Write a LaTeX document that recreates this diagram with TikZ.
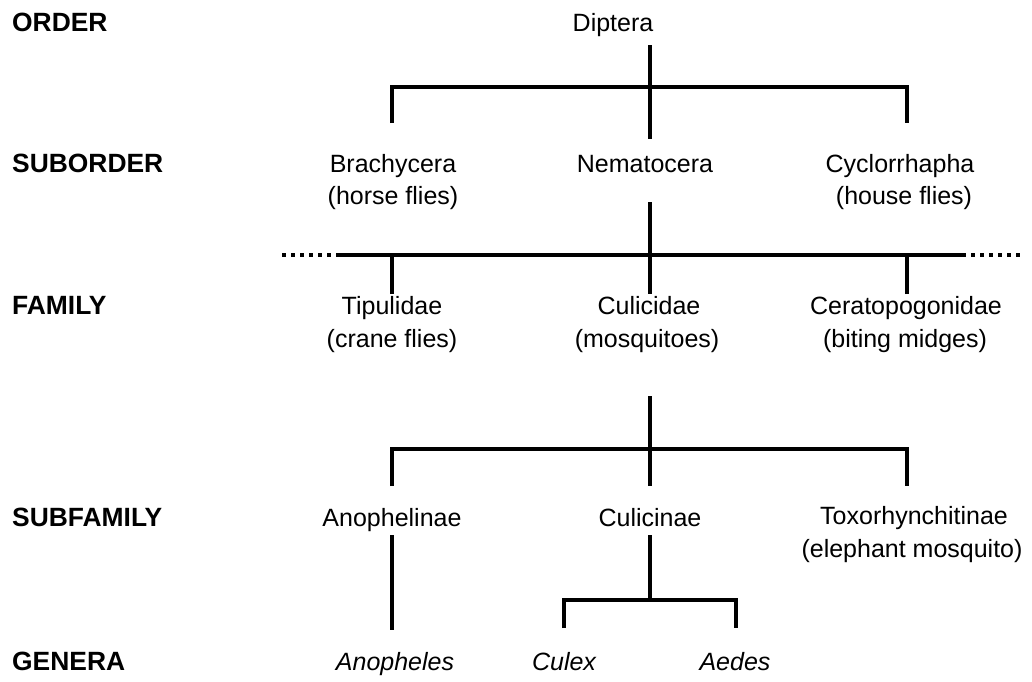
\documentclass[tikz,border=0pt]{standalone}
\usepackage{fontspec}
\setmainfont{Liberation Sans}
\begin{document}
\begin{tikzpicture}[x=1pt,y=-1pt,
  txt/.style={inner sep=0pt,anchor=base,font=\fontsize{25}{30}\selectfont},
  rank/.style={inner sep=0pt,anchor=base west,font=\fontsize{26.4}{30}\selectfont\bfseries},
  gen/.style={txt,font=\fontsize{25}{30}\selectfont\itshape},
  tree/.style={line width=4pt,miter limit=4,line join=miter},
  dots/.style={line width=4pt,dash pattern=on 4pt off 5pt}]
\useasboundingbox (0,0) rectangle (1032,681);
% rank labels
\node[rank] (rOrder) at (12,31.5) {ORDER};
\node[rank] (rSub) at (12,172) {SUBORDER};
\node[rank] (rFam) at (12,314) {FAMILY};
\node[rank] (rSubf) at (12,526) {SUBFAMILY};
\node[rank] (rGen) at (12,670) {GENERA};
% taxa
\node[txt] (dip) at (613,31) {Diptera};
\node[txt] (bra) at (393,172) {Brachycera};
\node[txt] (braC) at (393,204) {(horse flies)};
\node[txt] (nem) at (645,172) {Nematocera};
\node[txt] (cyc) at (900,172) {Cyclorrhapha};
\node[txt] (cycC) at (904,204) {(house flies)};
\node[txt] (tip) at (392,314) {Tipulidae};
\node[txt] (tipC) at (392,347) {(crane flies)};
\node[txt] (cul) at (649,314) {Culicidae};
\node[txt] (culC) at (647,347) {(mosquitoes)};
\node[txt] (cer) at (906,314) {Ceratopogonidae};
\node[txt] (cerC) at (905,347) {(biting midges)};
\node[txt] (ano) at (392,526) {Anophelinae};
\node[txt] (culn) at (650,526) {Culicinae};
\node[txt] (tox) at (914,524) {Toxorhynchitinae};
\node[txt] (toxC) at (912,557) {(elephant mosquito)};
\node[gen] (anog) at (395,670) {Anopheles};
\node[gen] (culx) at (564,670) {Culex};
\node[gen] (aed) at (735,670) {Aedes};
% junction coordinates
\coordinate (a0) at (650,45);
\coordinate (a1) at (650,139);
\coordinate (aL) at (392,123);
\coordinate (aR) at (907,123);
\coordinate (b0) at (650,202);
\coordinate (b1) at (650,294);
\coordinate (bL) at (392,294);
\coordinate (bR) at (907,294);
\coordinate (bdl) at (282,255);
\coordinate (bsl) at (337,255);
\coordinate (bsr) at (962,255);
\coordinate (bdr) at (1022,255);
\coordinate (c0) at (650,396);
\coordinate (c1) at (650,486);
\coordinate (cL) at (392,486);
\coordinate (cR) at (907,486);
\coordinate (d0) at (392,535);
\coordinate (d1) at (392,630);
\coordinate (e0) at (650,535);
\coordinate (e1) at (650,600);
\coordinate (eL) at (564,628);
\coordinate (eR) at (736,628);
% level 1
\draw[tree] (a0) -- (a1);
\draw[tree] (aL) |- (650,87) -| (aR);
% level 2
\draw[tree] (b0) -- (b1);
\draw[tree] (bsl) -- (bsr);
\draw[tree] (bL) -- (bL |- bsl);
\draw[tree] (bR) -- (bR |- bsr);
\draw[dots] (bdl) -- (bsl);
\draw[dots] (bsr) -- (bdr);
% level 3
\draw[tree] (c0) -- (c1);
\draw[tree] (cL) |- (650,449) -| (cR);
% level 4
\draw[tree] (d0) -- (d1);
\draw[tree] (e0) -- (e1);
\draw[tree] (eL) |- (e1) -| (eR);
\end{tikzpicture}
\end{document}
